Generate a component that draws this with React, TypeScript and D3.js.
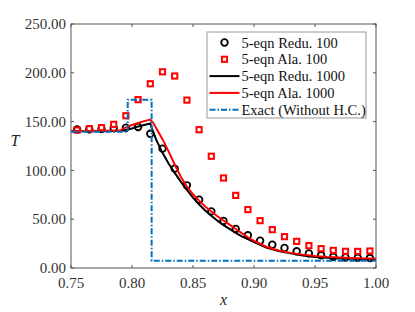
import * as d3 from 'd3';

// marker samples (N = 100)
const markerX = [0.755, 0.765, 0.775, 0.785, 0.795, 0.805, 0.815, 0.825, 0.835, 0.845, 0.855, 0.865, 0.875,
  0.885, 0.895, 0.905, 0.915, 0.925, 0.935, 0.945, 0.955, 0.965, 0.975, 0.985, 0.995];
const redu100 = [142, 142.2, 142.5, 143.5, 143.7, 144.5, 137.5, 122.3, 101.8, 84.7, 70, 58, 48.2,
  40, 33.5, 28, 23.9, 20.5, 17.1, 15, 13, 11.5, 10.8, 10.4, 10.2];
const ala100 = [141.4, 142.7, 143.8, 147.2, 156, 172.5, 188.8, 201, 196.7, 172, 141.7, 114.5, 92.2,
  74.4, 59.8, 48.5, 39.3, 32.1, 27.3, 22.9, 19.8, 18.1, 17.1, 17, 17.4];

// fine-grid solutions (N = 1000)
const lineX = [0.75, 0.79, 0.795, 0.8, 0.805, 0.81, 0.815, 0.8175, 0.82, 0.825, 0.83, 0.835, 0.84, 0.845,
  0.85, 0.855, 0.86, 0.865, 0.87, 0.875, 0.88, 0.885, 0.89, 0.895, 0.9, 0.91, 0.92, 0.93, 0.94, 0.95,
  0.96, 0.97, 0.98, 0.99, 1.0];
const ala1000 = [140, 140.8, 144, 146.5, 148.5, 150.5, 152, 148.5, 143, 132, 119.5, 106, 93.5, 83.5, 75.5,
  69, 63, 57.8, 53, 48.7, 44.5, 40, 35.7, 31.5, 27.8, 21.8, 18, 15.5, 13.7, 12.3, 11.4, 10.8, 10.2, 9.8, 9.5];
const redu1000 = [140, 140.3, 141.5, 143, 145, 146.5, 148, 139, 131, 118, 107, 97.5, 88.5, 80, 72, 65,
  59, 53.5, 48.5, 44, 40, 36, 32.5, 29.5, 26.5, 21, 17.5, 15, 12.8, 11.3, 10.4, 9.8, 9.4, 9.1, 9];

// exact solution, piecewise constant
const exactX = [0.75, 0.7965, 0.8161, 1.0];
const exactT = [139.5, 172.5, 7.5, 7.5];

const xTicks = [0.75, 0.8, 0.85, 0.9, 0.95, 1.0];
const yTicks = [0, 50, 100, 150, 200, 250];

const legendItems = [
  { label: '5-eqn Redu. 100', kind: 'circle' },
  { label: '5-eqn Ala. 100', kind: 'square' },
  { label: '5-eqn Redu. 1000', kind: 'black' },
  { label: '5-eqn Ala. 1000', kind: 'red' },
  { label: 'Exact (Without H.C.)', kind: 'exact' },
];

const W = 415;
const H = 312;
const m = { left: 71, right: 376, top: 24, bottom: 268 };
const serif = { fontFamily: 'Liberation Serif, Times New Roman, serif' };
const axisColor = '#555';
const blue = '#0072BD';

export default function App() {
  const x = d3.scaleLinear().domain([0.75, 1.0]).range([m.left, m.right]);
  const y = d3.scaleLinear().domain([0, 250]).range([m.bottom, m.top]);

  const line = d3.line<[number, number]>().x((d) => x(d[0])).y((d) => y(d[1]));
  const step = d3.line<[number, number]>().x((d) => x(d[0])).y((d) => y(d[1])).curve(d3.curveStepAfter);

  const redLine = line(lineX.map((v, i) => [v, ala1000[i]]));
  const blackLine = line(lineX.map((v, i) => [v, redu1000[i]]));
  const exactLine = step(exactX.map((v, i) => [v, exactT[i]]));

  const dash = '6,2,1.5,2';
  const lg = { x: 207, y: 32, w: 159, h: 86, row: 16.8 };

  return (
    <svg width={W} height={H} style={{ position: 'absolute', left: 0, top: 0, background: '#fff' }}>
      <defs>
        <clipPath id="plot">
          <rect x={m.left} y={m.top - 5} width={m.right - m.left + 5} height={m.bottom - m.top + 5} />
        </clipPath>
      </defs>

      {/* ticks */}
      {xTicks.map((t) => (
        <g key={'x' + t}>
          <line x1={x(t)} x2={x(t)} y1={m.bottom} y2={m.bottom - 3} stroke={axisColor} />
          <line x1={x(t)} x2={x(t)} y1={m.top} y2={m.top + 3} stroke={axisColor} />
          <text x={x(t)} y={288} textAnchor="middle" fontSize={15} fill="#333" style={serif}>
            {t.toFixed(2)}
          </text>
        </g>
      ))}
      {yTicks.map((t) => (
        <g key={'y' + t}>
          <line x1={m.left} x2={m.left + 3} y1={y(t)} y2={y(t)} stroke={axisColor} />
          <line x1={m.right} x2={m.right - 3} y1={y(t)} y2={y(t)} stroke={axisColor} />
          <text x={66} y={y(t)} dy="0.35em" textAnchor="end" fontSize={15} fill="#333" style={serif}>
            {t.toFixed(2)}
          </text>
        </g>
      ))}
      <rect x={m.left} y={m.top} width={m.right - m.left} height={m.bottom - m.top} fill="none" stroke={axisColor} />

      <g clipPath="url(#plot)">
        {markerX.map((v, i) => (
          <circle key={'c' + i} cx={x(v)} cy={y(redu100[i])} r={3.3} fill="none" stroke="#000" strokeWidth={1.8} />
        ))}
        {markerX.map((v, i) => (
          <rect key={'s' + i} x={x(v) - 2.6} y={y(ala100[i]) - 2.6} width={5.2} height={5.2} fill="#fff" stroke="#f00" strokeWidth={2} />
        ))}
        <path d={blackLine ?? ''} fill="none" stroke="#000" strokeWidth={2} />
        <path d={redLine ?? ''} fill="none" stroke="#f00" strokeWidth={2} />
        <path d={exactLine ?? ''} fill="none" stroke={blue} strokeWidth={2} strokeDasharray={dash} />
      </g>

      {/* legend */}
      <rect x={lg.x} y={lg.y} width={lg.w} height={lg.h} fill="#fff" stroke="#999" />
      {legendItems.map((it, i) => {
        const cy = lg.y + 10.5 + i * lg.row;
        const x0 = 209.5;
        const x1 = 239.5;
        const cx = (x0 + x1) / 2;
        return (
          <g key={it.label}>
            {it.kind === 'circle' && <circle cx={cx} cy={cy} r={3.3} fill="none" stroke="#000" strokeWidth={1.8} />}
            {it.kind === 'square' && (
              <rect x={cx - 2.6} y={cy - 2.6} width={5.2} height={5.2} fill="#fff" stroke="#f00" strokeWidth={2} />
            )}
            {it.kind === 'black' && <line x1={x0} x2={x1} y1={cy} y2={cy} stroke="#000" strokeWidth={2} />}
            {it.kind === 'red' && <line x1={x0} x2={x1} y1={cy} y2={cy} stroke="#f00" strokeWidth={2} />}
            {it.kind === 'exact' && (
              <line x1={x0} x2={x1} y1={cy} y2={cy} stroke={blue} strokeWidth={2} strokeDasharray={dash} />
            )}
            <text x={241.5} y={cy} dy="0.35em" fontSize={14.5} fill="#111" style={serif}>
              {it.label}
            </text>
          </g>
        );
      })}

      {/* axis labels */}
      <text x={(m.left + m.right) / 2} y={305} textAnchor="middle" fontSize={16} fontStyle="italic" fill="#222" style={serif}>
        x
      </text>
      <text x={15} y={146} textAnchor="middle" fontSize={16} fontStyle="italic" fill="#222" style={serif}>
        T
      </text>
    </svg>
  );
}
